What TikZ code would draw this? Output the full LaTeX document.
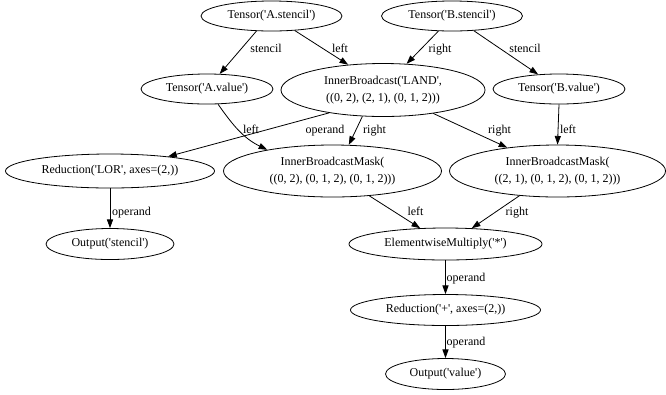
\documentclass[tikz,border=0pt]{standalone}
\usepackage{fontspec}
\setmainfont{Liberation Serif}[Ligatures=TeXOff]
\usetikzlibrary{shapes.geometric,arrows.meta}
\tikzset{
  op/.style={ellipse, draw, line width=0.6pt, inner sep=0pt, align=center,
    font=\fontsize{9}{12.75}\selectfont},
  sz/.style 2 args={minimum width=0.75pt*#1, minimum height=0.75pt*#2},
  edge/.style={line width=0.6pt, -{Triangle[length=6.5pt,width=4.6pt]}},
  lbl/.style={inner sep=0pt, anchor=base, font=\fontsize{9}{12.75}\selectfont}
}
\begin{document}
\begin{tikzpicture}[x=0.75pt,y=-0.75pt]
\useasboundingbox (0,0) rectangle (666,394);
% inputs
\node[op,sz={141}{30}] (ast) at (271.5,16) {Tensor('A.stencil')};
\node[op,sz={141}{30}] (bst) at (452,16) {Tensor('B.stencil')};
\node[op,sz={132}{30}] (aval) at (207,89) {Tensor('A.value')};
\node[op,sz={204}{53}] (ib) at (383,90) {InnerBroadcast('LAND',\\((0, 2), (2, 1), (0, 1, 2)))};
\node[op,sz={132}{30}] (bval) at (559,89) {Tensor('B.value')};
% masks and reductions
\node[op,sz={209}{34}] (rlor) at (110,171) {Reduction('LOR', axes=(2,))};
\node[op,sz={218}{52}] (lmask) at (332.5,171) {InnerBroadcastMask(\\((0, 2), (0, 1, 2), (0, 1, 2)))};
\node[op,sz={216}{52}] (rmask) at (557.5,171) {InnerBroadcastMask(\\((2, 1), (0, 1, 2), (0, 1, 2)))};
\node[op,sz={128}{31}] (ostencil) at (110,244) {Output('stencil')};
\node[op,sz={193}{32}] (em) at (445.5,244) {ElementwiseMultiply('*')};
\node[op,sz={190}{31}] (rplus) at (445.5,310) {Reduction('+', axes=(2,))};
\node[op,sz={120}{31}] (oval) at (445.5,374) {Output('value')};
% connectors
\foreach \s/\e in {ast.225/aval.50, ast.328/ib.144, bst.228/ib.48, bst.326/bval.145,
                   ib.203/rlor.14, ib.232/lmask.58, ib.335/rmask.155, bval.south/rmask.north,
                   rlor.south/ostencil.north, lmask.326/em.148, rmask.213/em.31,
                   em.south/rplus.north, rplus.south/oval.north}
{
    \draw[edge] (\s) -- (\e);
}
\draw[edge] (aval.306) to[out=-55,in=154] (lmask.162);
% edge labels
\foreach \n/\x/\y/\t in {l1/266/52/stencil, l2/340/52/left, l3/440/52/right, l4/525/52/stencil,
                         l5/251/133/left, l6/325/133/operand, l7/374.5/133/right, l8/499.5/133/right,
                         l9/568/133/left, l10/131.5/215/operand, l11/415.5/215/left, l12/517/215/right,
                         l13/466/281/operand, l14/466/345/operand}
{
    \node[lbl] (\n) at (\x,\y) {\t};
}
\end{tikzpicture}
\end{document}
